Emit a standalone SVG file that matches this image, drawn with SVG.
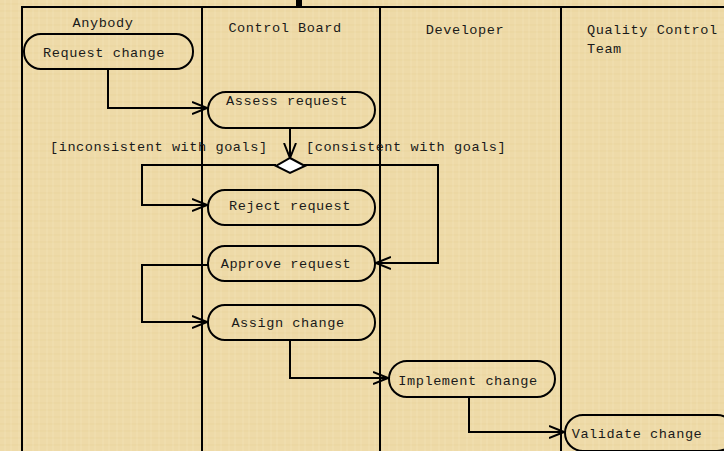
<svg xmlns="http://www.w3.org/2000/svg" width="724" height="451" viewBox="0 0 724 451">
<defs>
<pattern id="tex" width="14" height="14" patternUnits="userSpaceOnUse">
<rect width="14" height="14" fill="#eedaa8"/>
<path d="M0 4H14M0 11H14" stroke="#e2c98e" stroke-width="1" opacity="0.35"/>
<path d="M5 0V14M11 0V14" stroke="#f7eac6" stroke-width="1" opacity="0.35"/>
</pattern>
<marker id="arr" viewBox="0 0 16 14" refX="15" refY="7" markerWidth="16" markerHeight="14" markerUnits="userSpaceOnUse" orient="auto">
<path d="M0 1L15 7L0 13" fill="none" stroke="#000" stroke-width="2"/>
</marker>
<style>
.lane{stroke:#000;stroke-width:2;fill:none}
.node rect{fill:none;stroke:#000;stroke-width:2}
text{font-family:"Liberation Mono","Courier New",monospace;font-size:13.6px;letter-spacing:0.55px;fill:#1a1a1a}
.c{stroke:#000;stroke-width:2;fill:none;marker-end:url(#arr)}
</style>
</defs>
<rect width="724" height="451" fill="url(#tex)"/>
<g id="lanes">
<path class="lane" d="M22 451V7H724"/>
<path class="lane" d="M202 7V451M380 7V451M561 7V451"/>
<rect x="296" y="0" width="6" height="8" fill="#000"/>
<text x="103" y="27" text-anchor="middle">Anybody</text>
<text x="285" y="32" text-anchor="middle">Control Board</text>
<text x="465" y="34" text-anchor="middle">Developer</text>
<text x="587" y="34">Quality Control</text>
<text x="587" y="53">Team</text>
</g>
<g id="connectors">
<path class="c" d="M108 69V108H207"/>
<path class="c" d="M290 128V158"/>
<path class="c" d="M276 165H142V205H207"/>
<path class="c" d="M304 165H438V263H376"/>
<path class="c" d="M208 265H142V322H207"/>
<path class="c" d="M290 340V378H388"/>
<path class="c" d="M469 397V432H564"/>
<text x="50" y="151">[inconsistent with goals]</text>
<text x="306" y="151">[consistent with goals]</text>
</g>
<g id="n-request" class="node"><rect x="24" y="34" width="169" height="35" rx="17"/><text x="104" y="57" text-anchor="middle">Request change</text></g>
<g id="n-assess" class="node"><rect x="208" y="92" width="167" height="36" rx="18"/><text x="287" y="105" text-anchor="middle">Assess request</text></g>
<g id="n-decision" class="node"><path d="M290 158L305 166L290 173L276 166Z" fill="#fff" stroke="#000" stroke-width="2"/></g>
<g id="n-reject" class="node"><rect x="208" y="190" width="167" height="35" rx="17"/><text x="290" y="210" text-anchor="middle">Reject request</text></g>
<g id="n-approve" class="node"><rect x="208" y="246" width="167" height="35" rx="17"/><text x="286" y="268" text-anchor="middle">Approve request</text></g>
<g id="n-assign" class="node"><rect x="208" y="305" width="167" height="35" rx="17"/><text x="288" y="327" text-anchor="middle">Assign change</text></g>
<g id="n-implement" class="node"><rect x="389" y="361" width="166" height="36" rx="18"/><text x="468" y="385" text-anchor="middle">Implement change</text></g>
<g id="n-validate" class="node"><rect x="565" y="415" width="170" height="36" rx="18"/><text x="637" y="438" text-anchor="middle">Validate change</text></g>
</svg>
